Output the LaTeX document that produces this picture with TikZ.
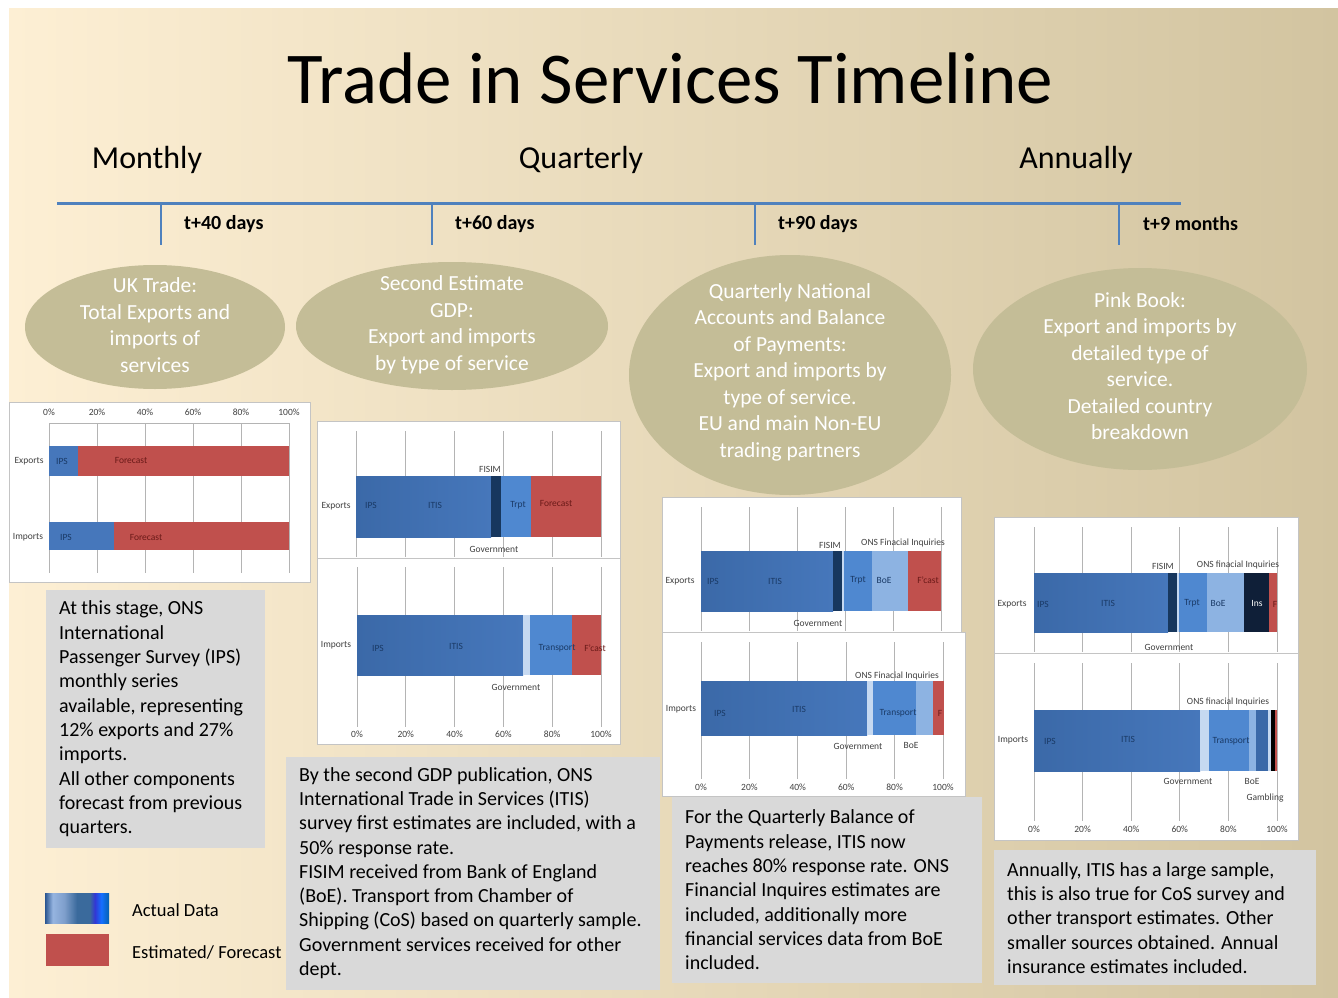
\documentclass[tikz,border=0pt]{standalone}
\usepackage{fontspec}
\setmainfont{Carlito}
\usetikzlibrary{positioning}

\definecolor{paper}{HTML}{FDEFD4}
\definecolor{papermid}{HTML}{F3E9D0}
\definecolor{paperdark}{HTML}{D2C4A0}
\definecolor{rulerblue}{HTML}{4F81BD}
\definecolor{bubblefill}{HTML}{C4BD97}
\definecolor{notegrey}{HTML}{D9D9D9}
\definecolor{gridgrey}{HTML}{B4B4B4}
\definecolor{framegrey}{HTML}{C4C4C4}
\definecolor{ipsblue}{HTML}{3B69A8}
\definecolor{itisblue}{HTML}{4677BB}
\definecolor{trptblue}{HTML}{4F88D0}
\definecolor{boeblue}{HTML}{8DB3E2}
\definecolor{fisimblue}{HTML}{17375E}
\definecolor{insblue}{HTML}{0F1F38}
\definecolor{govblue}{HTML}{C6D9F1}
\definecolor{fcastred}{HTML}{C0504D}
\definecolor{labelgrey}{HTML}{404040}
\definecolor{onblue}{HTML}{1A3A66}
\definecolor{onred}{HTML}{6A1A18}
\definecolor{ad1}{HTML}{2A5590}
\definecolor{ad2}{HTML}{96B4E0}
\definecolor{ad3}{HTML}{7F9FCC}
\definecolor{ad4}{HTML}{3A6A9C}
\definecolor{ad5}{HTML}{3237D4}
\definecolor{ad6}{HTML}{1470FF}
\definecolor{ad7}{HTML}{0462B0}

\pgfdeclarehorizontalshading{actualdata}{100bp}{color(0bp)=(ad1); color(25bp)=(ad1);
  color(31bp)=(ad2); color(40bp)=(ad3); color(50bp)=(ad4); color(60bp)=(ad4);
  color(64bp)=(ad5); color(69bp)=(ad6); color(75bp)=(ad7); color(100bp)=(ad7)}

\tikzset{
  heading/.style={font=\fontsize{32}{38}\selectfont, anchor=base},
  daylabel/.style={font=\fontsize{20}{24}\selectfont\bfseries, anchor=west, inner sep=0pt},
  timeline/.style={rulerblue, line width=3pt},
  tickline/.style={rulerblue, line width=1.5pt},
  bubbletext/.style={text=white, align=center, font=\fontsize{21.5}{26.5}\selectfont, inner sep=0pt},
  notetext/.style={anchor=west, align=left, font=\fontsize{20}{24.3}\selectfont, inner sep=0pt},
  chartframe/.style={draw=framegrey, fill=white, line width=0.8pt},
  gridline/.style={gridgrey, line width=0.8pt},
  chartlbl/.style={font=\fontsize{9.5}{10}\selectfont, text=labelgrey, inner sep=0pt},
  barlbl/.style={chartlbl, text=onblue},
  redlbl/.style={chartlbl, text=onred},
  legendtext/.style={anchor=west, font=\fontsize{18.5}{21}\selectfont, inner sep=0pt}
}

\begin{document}
\begin{tikzpicture}[x=1pt, y=-1pt]
  \useasboundingbox (0,0) rectangle (1338,998);
  \fill[white] (0,0) rectangle (1338,998);
  \shade[left color=paper, middle color=papermid, right color=paperdark] (9,9) rectangle (1338,998);

  \node[font=\fontsize{73}{80}\selectfont, anchor=base] (title) at (670,103) {Trade in Services Timeline};
  \node[heading] (monthly) at (147,168) {Monthly};
  \node[heading] (quarterly) at (581,168) {Quarterly};
  \node[heading] (annually) at (1076,168) {Annually};

  \draw[timeline] (57,203) -- (1181,203);
  \foreach \t in {161,432,755,1119}
    \draw[tickline] (\t,203) -- (\t,245);
  \node[daylabel] (d40) at (184,224) {t+40 days};
  \node[daylabel] (d60) at (455,224) {t+60 days};
  \node[daylabel] (d90) at (778,224) {t+90 days};
  \node[daylabel] (m9) at (1143,224) {t+9 months};

  \fill[bubblefill] (155,327) ellipse [x radius=130pt, y radius=62pt];
  \fill[bubblefill] (452,326) ellipse [x radius=156pt, y radius=64pt];
  \fill[bubblefill] (790,375) ellipse [x radius=161pt, y radius=120pt];
  \fill[bubblefill] (1140,369) ellipse [x radius=167pt, y radius=101pt];
  \node[bubbletext] (uktrade) at (155,325) {UK Trade:\\Total Exports and\\imports of\\services};
  \node[bubbletext] (secondgdp) at (452,325) {Second Estimate\\GDP:\\Export and imports\\by type of service};
  \node[bubbletext] (qna) at (790,372) {Quarterly National\\Accounts and Balance\\of Payments:\\Export and imports by\\type of service.\\EU and main Non-EU\\trading partners};
  \node[bubbletext] (pinkbook) at (1140,366) {Pink Book:\\Export and imports by\\detailed type of\\service.\\Detailed country\\breakdown};

  \draw[chartframe] (9,402) rectangle (310,582);
  \draw[gridline] (49,423) -- (289,423);
  \foreach \p [count=\i from 0] in {0,20,40,60,80,100}{
    \draw[gridline] (49+48*\i,423) -- (49+48*\i,573);
    \node[chartlbl] (mp\p) at (49+48*\i,412) {\p\%};
  }
  \fill[itisblue] (49,446) rectangle (78,476);
  \fill[fcastred] (78,446) rectangle (289,476);
  \fill[itisblue] (49,522) rectangle (114,550);
  \fill[fcastred] (114,522) rectangle (289,550);
  \node[chartlbl] (mexp) at (29,461) {Exports};
  \node[chartlbl] (mimp) at (28,537) {Imports};
  \node[barlbl] (mexpips) at (62,461) {IPS};
  \node[redlbl] (mexpf) at (131,460) {Forecast};
  \node[barlbl] (mimpips) at (66,537) {IPS};
  \node[redlbl] (mimpf) at (146,537) {Forecast};

  \draw[chartframe] (317,421) rectangle (620,558);
  \draw[chartframe] (317,558) rectangle (620,744);
  \foreach \p [count=\i from 0] in {0,20,40,60,80,100}{
    \draw[gridline] (356+49*\i,431) -- (356+49*\i,557);
    \draw[gridline] (357+48.8*\i,567) -- (357+48.8*\i,727);
    \node[chartlbl] (sp\p) at (357+48.8*\i,734) {\p\%};
  }
  \shade[left color=ipsblue, right color=itisblue] (356,476) rectangle (491,537);
  \fill[fisimblue] (491,476) rectangle (501,537);
  \fill[trptblue] (501,476) rectangle (531,537);
  \fill[fcastred] (531,476) rectangle (601,537);
  \shade[left color=ipsblue, right color=itisblue] (357,615) rectangle (523,675);
  \fill[govblue] (523,615) rectangle (530,675);
  \fill[trptblue] (530,615) rectangle (572,675);
  \fill[fcastred] (572,615) rectangle (601,675);
  \node[chartlbl] (sexp) at (336,506) {Exports};
  \node[chartlbl] (simp) at (336,645) {Imports};
  \node[chartlbl] (sfisim) at (490,469) {FISIM};
  \node[chartlbl] (sgov) at (494,549) {Government};
  \node[chartlbl] (sgovi) at (516,687) {Government};
  \node[barlbl] (sips) at (371,505) {IPS};
  \node[barlbl] (sitis) at (435,505) {ITIS};
  \node[barlbl] (strpt) at (518,505) {Trpt};
  \node[redlbl] (sfc) at (556,503) {Forecast};
  \node[barlbl] (sipsi) at (378,648) {IPS};
  \node[barlbl] (sitisi) at (456,646) {ITIS};
  \node[barlbl] (strans) at (557,648) {Transport};
  \node[redlbl] (sfci) at (595,648) {F'cast};

  \draw[chartframe] (662,497) rectangle (961,632);
  \draw[chartframe] (662,632) rectangle (965,796);
  \foreach \p [count=\i from 0] in {0,20,40,60,80,100}{
    \draw[gridline] (701+48*\i,507) -- (701+48*\i,631);
    \draw[gridline] (701+48.4*\i,642) -- (701+48.4*\i,779);
    \node[chartlbl] (qp\p) at (701+48.4*\i,787) {\p\%};
  }
  \shade[left color=ipsblue, right color=itisblue] (701,551) rectangle (833,611);
  \fill[fisimblue] (833,551) rectangle (842,611);
  \fill[govblue] (842,551) rectangle (844,611);
  \fill[trptblue] (844,551) rectangle (872,611);
  \fill[boeblue] (872,551) rectangle (908,611);
  \fill[fcastred] (908,551) rectangle (941,611);
  \shade[left color=ipsblue, right color=itisblue] (701,681) rectangle (867,735);
  \fill[govblue] (867,681) rectangle (873,735);
  \fill[trptblue] (873,681) rectangle (916,735);
  \fill[boeblue] (916,681) rectangle (933,735);
  \fill[fcastred] (933,681) rectangle (944,735);
  \node[chartlbl] (qexp) at (680,581) {Exports};
  \node[chartlbl] (qimp) at (681,709) {Imports};
  \node[chartlbl] (qfisim) at (830,545) {FISIM};
  \node[chartlbl] (qons) at (903,543) {ONS Finacial Inquiries};
  \node[chartlbl] (qgov) at (818,623) {Government};
  \node[chartlbl] (qonsi) at (897,676) {ONS Finacial Inquiries};
  \node[chartlbl] (qgovi) at (858,746) {Government};
  \node[chartlbl] (qboei) at (911,745) {BoE};
  \node[barlbl] (qips) at (713,581) {IPS};
  \node[barlbl] (qitis) at (775,581) {ITIS};
  \node[barlbl] (qtrpt) at (858,580) {Trpt};
  \node[barlbl] (qboe) at (884,580) {BoE};
  \node[redlbl] (qfc) at (928,580) {F'cast};
  \node[barlbl] (qipsi) at (720,713) {IPS};
  \node[barlbl] (qitisi) at (799,709) {ITIS};
  \node[barlbl] (qtrans) at (898,713) {Transport};
  \node[redlbl] (qfci) at (940,713) {F};

  \draw[chartframe] (994,517) rectangle (1298,653);
  \draw[chartframe] (994,653) rectangle (1298,840);
  \foreach \p [count=\i from 0] in {0,20,40,60,80,100}{
    \draw[gridline] (1034+48.6*\i,527) -- (1034+48.6*\i,652);
    \draw[gridline] (1034+48.6*\i,663) -- (1034+48.6*\i,821);
    \node[chartlbl] (ap\p) at (1034+48.6*\i,829) {\p\%};
  }
  \shade[left color=ipsblue, right color=itisblue] (1034,573) rectangle (1168,632);
  \fill[fisimblue] (1168,573) rectangle (1177,632);
  \fill[govblue] (1177,573) rectangle (1179,632);
  \fill[trptblue] (1179,573) rectangle (1207,632);
  \fill[boeblue] (1207,573) rectangle (1244,632);
  \fill[insblue] (1244,573) rectangle (1269,632);
  \fill[fcastred] (1269,573) rectangle (1277,632);
  \shade[left color=ipsblue, right color=itisblue] (1034,710) rectangle (1200,771);
  \fill[govblue] (1200,710) rectangle (1209,771);
  \fill[trptblue] (1209,710) rectangle (1249,771);
  \fill[boeblue] (1249,710) rectangle (1256,771);
  \fill[ipsblue] (1256,710) rectangle (1268,771);
  \fill[govblue] (1268,710) rectangle (1271,771);
  \fill[black] (1271,710) rectangle (1275,771);
  \fill[fcastred] (1275,710) rectangle (1277,771);
  \node[chartlbl] (aexp) at (1012,604) {Exports};
  \node[chartlbl] (aimp) at (1013,740) {Imports};
  \node[chartlbl] (afisim) at (1163,566) {FISIM};
  \node[chartlbl] (aons) at (1238,565) {ONS finacial Inquiries};
  \node[chartlbl] (agov) at (1169,647) {Government};
  \node[chartlbl] (aonsi) at (1228,702) {ONS finacial Inquiries};
  \node[chartlbl] (agovi) at (1188,781) {Government};
  \node[chartlbl] (aboei) at (1252,781) {BoE};
  \node[chartlbl] (agamb) at (1265,798) {Gambling};
  \node[barlbl] (aips) at (1043,604) {IPS};
  \node[barlbl] (aitis) at (1108,603) {ITIS};
  \node[barlbl] (atrpt) at (1192,603) {Trpt};
  \node[barlbl] (aboe) at (1218,603) {BoE};
  \node[chartlbl, text=white] (ains) at (1257,603) {Ins};
  \node[redlbl] (afc) at (1275,604) {F};
  \node[barlbl] (aipsi) at (1050,741) {IPS};
  \node[barlbl] (aitisi) at (1128,739) {ITIS};
  \node[barlbl] (atrans) at (1231,741) {Transport};

  \fill[notegrey] (46,590) rectangle (265,848);
  \node[notetext] (stagenote) at (59,719) {At this stage, ONS\\International\\Passenger Survey (IPS)\\monthly series\\available, representing\\12\% exports and 27\%\\imports.\\All other components\\forecast from previous\\quarters.};
  \fill[notegrey] (286,757) rectangle (660,990);
  \node[notetext] (gdpnote) at (299,873) {By the second GDP publication, ONS\\International Trade in Services (ITIS)\\survey first estimates are included, with a\\50\% response rate.\\FISIM received from Bank of England\\(BoE). Transport from Chamber of\\Shipping (CoS) based on quarterly sample.\\Government services received for other\\dept.};
  \fill[notegrey] (672,797) rectangle (982,983);
  \node[notetext] (bopnote) at (685,890) {For the Quarterly Balance of\\Payments release, ITIS now\\reaches 80\% response rate. ONS\\Financial Inquires estimates are\\included, additionally more\\financial services data from BoE\\included.};
  \fill[notegrey] (994,850) rectangle (1316,985);
  \node[notetext] (annualnote) at (1007,918) {Annually, ITIS has a large sample,\\this is also true for CoS survey and\\other transport estimates. Other\\smaller sources obtained. Annual\\insurance estimates included.};

  \shade[shading=actualdata] (45,893) rectangle (109,923);
  \fill[fcastred] (46,934) rectangle (109,966);
  \node[legendtext] (actual) at (132,910) {Actual Data};
  \node[legendtext] (estimated) at (132,952) {Estimated/ Forecast};
\end{tikzpicture}
\end{document}
